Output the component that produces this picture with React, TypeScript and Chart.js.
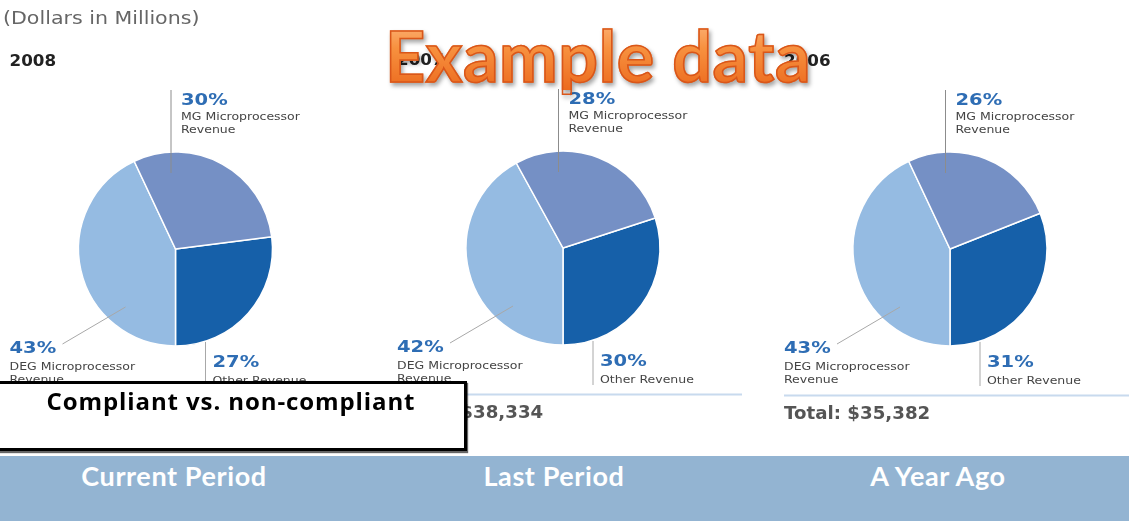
import React, { useEffect, useRef } from "react";
import { Chart, registerables } from "chart.js";

Chart.register(...registerables);

// ---------- data ----------
const yearLabels = ["2008", "2007", "2006"];
const periodLabels = ["Current Period", "Last Period", "A Year Ago"];
const sliceLabels = [
  ["Other Revenue"],
  ["DEG Microprocessor", "Revenue"],
  ["MG Microprocessor", "Revenue"],
];
const otherRevenuePct = [27, 30, 31];
const degRevenuePct = [43, 42, 43];
const mgRevenuePct = [30, 28, 26];
const totalLabels = ["Total: $37,586", "Total: $38,334", "Total: $35,382"];
const unitsLabel = "(Dollars in Millions)";
const overlayTitle = "Example data";
const calloutText = "Compliant vs. non-compliant";

// ---------- styles / layout ----------
const sliceColors = ["#1660A9", "#95BBE2", "#7590C5"];
const PAGE_W = 1129;
const PAGE_H = 521;
const PANEL_LEFT = [0, 376, 752];
const PANEL_WIDTH = [376, 376, 377];
const PANEL_HEIGHT = 456;
const PIE_CX = [175.5, 563, 950];
const PIE_CY = [249, 248, 249];
const PIE_R = 97;
const PERIOD_CX = [174, 554, 938];
const PCT_BLUE = "#2E6DB4";

function txt(
  ctx: CanvasRenderingContext2D,
  s: string,
  x: number,
  y: number,
  font: string,
  color: string,
  sx = 1
) {
  ctx.save();
  ctx.translate(x, y);
  ctx.scale(sx, 1);
  ctx.font = font;
  ctx.fillStyle = color;
  ctx.textAlign = "left";
  ctx.textBaseline = "alphabetic";
  ctx.fillText(s, 0, 0);
  ctx.restore();
}

function seg(
  ctx: CanvasRenderingContext2D,
  x1: number,
  y1: number,
  x2: number,
  y2: number,
  color: string,
  w = 1
) {
  ctx.save();
  ctx.strokeStyle = color;
  ctx.lineWidth = w;
  ctx.beginPath();
  ctx.moveTo(x1, y1);
  ctx.lineTo(x2, y2);
  ctx.stroke();
  ctx.restore();
}

function PiePanel({ i }: { i: number }) {
  const ref = useRef<HTMLCanvasElement>(null);
  useEffect(() => {
    const canvas = ref.current!;
    const bw = 1.5;
    const side = 2 * PIE_R + bw;
    const lx = PIE_CX[i] - PANEL_LEFT[i];
    const pad = {
      left: lx - side / 2,
      right: PANEL_WIDTH[i] - lx - side / 2,
      top: PIE_CY[i] - side / 2,
      bottom: PANEL_HEIGHT - PIE_CY[i] - side / 2,
    };
    const values = [otherRevenuePct[i], degRevenuePct[i], mgRevenuePct[i]];
    const total = values.reduce((a, b) => a + b, 0);
    const rotation = 180 - (values[0] / total) * 360;

    const labelsPlugin = {
      id: "pieLabels" + i,
      afterDraw(chart: any) {
        const arc = chart.getDatasetMeta(0).data[0] as any;
        const cx = arc.x;
        const cy = arc.y;
        const ctx: CanvasRenderingContext2D = chart.ctx;
        const pctFont = 'bold 15px "DejaVu Sans"';
        const smallFont = '10px "DejaVu Sans"';
        const smallColor = "#444";
        if (i === 0) {
          txt(ctx, unitsLabel, 3 - PANEL_LEFT[i], 24, '17px "DejaVu Sans"', "#666", 1.21);
        }
        txt(ctx, yearLabels[i], cx - 166, cy - 183.5, 'bold 15.5px "DejaVu Sans"', "#222", 1.08);

        // leader lines
        seg(ctx, cx - 4.5, cy - 159, cx - 4.5, cy - 76, "#8c8c8c");
        seg(ctx, cx - 50, cy + 58, cx - 113, cy + 95, "#a8a8a8");
        seg(ctx, cx + 30, cy + 93, cx + 30, cy + 137, "#a8a8a8");

        // MG
        txt(ctx, `${values[2]}%`, cx + 5.5, cy - 144.5, pctFont, PCT_BLUE, 1.3);
        sliceLabels[2].forEach((s, k) =>
          txt(ctx, s, cx + 5.5, cy - 129 + k * 12.5, smallFont, smallColor, 1.25)
        );
        // DEG
        txt(ctx, `${values[1]}%`, cx - 166, cy + 103.5, pctFont, PCT_BLUE, 1.3);
        sliceLabels[1].forEach((s, k) =>
          txt(ctx, s, cx - 166, cy + 121 + k * 13, smallFont, smallColor, 1.25)
        );
        // Other
        txt(ctx, `${values[0]}%`, cx + 37, cy + 117.5, pctFont, PCT_BLUE, 1.3);
        sliceLabels[0].forEach((s, k) =>
          txt(ctx, s, cx + 37, cy + 134.5 + k * 13, smallFont, smallColor, 1.25)
        );

        // separator + total
        seg(ctx, cx - 166, cy + 146.5, Math.min(cx + 179, chart.width), cy + 146.5, "#C8DAEE", 2);
        txt(ctx, totalLabels[i], cx - 166, cy + 169.5, 'bold 17.5px "DejaVu Sans"', "#555", 1.04);
      },
    };

    const chart = new Chart(canvas, {
      type: "pie",
      data: {
        labels: sliceLabels as any,
        datasets: [
          {
            data: values,
            backgroundColor: sliceColors,
            borderColor: "#ffffff",
            borderWidth: bw,
            hoverOffset: 0,
          },
        ],
      },
      options: {
        responsive: false,
        animation: false,
        devicePixelRatio: 1,
        rotation,
        events: [],
        layout: { padding: pad },
        plugins: {
          legend: { display: false },
          tooltip: { enabled: false },
        },
      },
      plugins: [labelsPlugin],
    });
    return () => chart.destroy();
  }, [i]);

  return (
    <canvas
      ref={ref}
      width={PANEL_WIDTH[i]}
      height={PANEL_HEIGHT}
      style={{
        position: "absolute",
        left: PANEL_LEFT[i],
        top: 0,
        width: PANEL_WIDTH[i],
        height: PANEL_HEIGHT,
      }}
    />
  );
}

export default function App() {
  return (
    <div
      style={{
        position: "absolute",
        left: 0,
        top: 0,
        width: PAGE_W,
        height: PAGE_H,
        overflow: "hidden",
        background: "#ffffff",
      }}
    >
      {[0, 1, 2].map((i) => (
        <PiePanel key={i} i={i} />
      ))}

      <div
        style={{
          position: "absolute",
          left: 385,
          top: 19.6,
          fontFamily: "Lato",
          fontWeight: 700,
          fontSize: 70,
          lineHeight: "70px",
          letterSpacing: 0.6,
          whiteSpace: "nowrap",
          background: "linear-gradient(180deg, #FDB47A 0%, #F7913F 40%, #EC6A1E 100%)",
          WebkitBackgroundClip: "text",
          backgroundClip: "text",
          color: "transparent",
          WebkitTextStroke: "1.5px #D9561A",
          filter: "drop-shadow(2px 3px 2px rgba(0,0,0,0.35))",
        }}
      >
        {overlayTitle}
      </div>

      <div
        style={{
          position: "absolute",
          left: -10,
          top: 381,
          width: 477,
          height: 70,
          boxSizing: "border-box",
          border: "3px solid #000",
          background: "#fff",
          boxShadow: "1px 2px 1px rgba(0,0,0,0.6)",
        }}
      >
        <div
          style={{
            position: "absolute",
            left: 5,
            right: 0,
            top: 5,
            textAlign: "center",
            fontFamily: '"Open Sans"',
            fontWeight: 700,
            fontSize: 24,
            lineHeight: "24px",
            letterSpacing: 0.9,
            color: "#000",
            whiteSpace: "nowrap",
          }}
        >
          {calloutText}
        </div>
      </div>

      <div
        style={{
          position: "absolute",
          left: 0,
          top: 456,
          width: PAGE_W,
          height: PAGE_H - 456,
          background: "#93B4D2",
        }}
      />
      {periodLabels.map((p, k) => (
        <div
          key={p}
          style={{
            position: "absolute",
            left: PERIOD_CX[k] - 150,
            width: 300,
            top: 462,
            textAlign: "center",
            color: "#fff",
            fontFamily: "Lato",
            fontWeight: 700,
            fontSize: 27,
            lineHeight: "27px",
            letterSpacing: 0.6,
            whiteSpace: "nowrap",
          }}
        >
          {p}
        </div>
      ))}
    </div>
  );
}
